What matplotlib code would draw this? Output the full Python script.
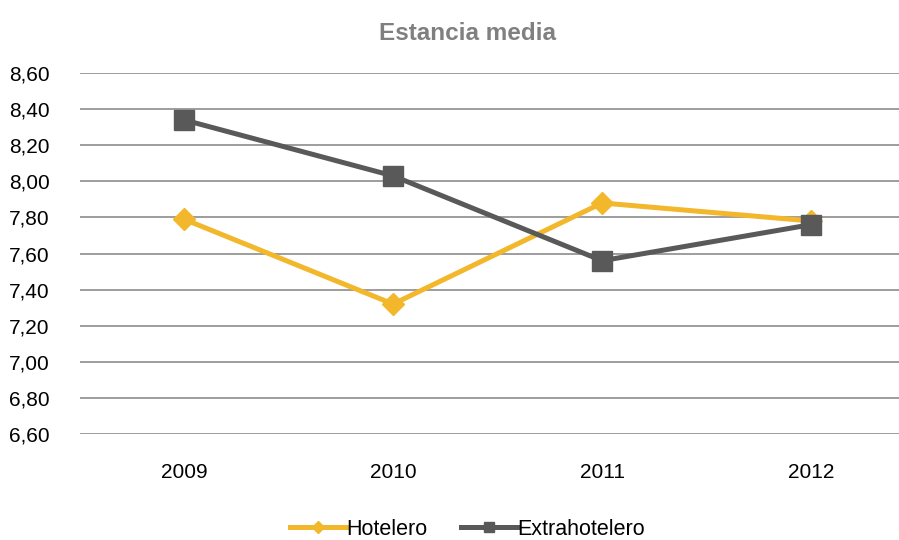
import matplotlib.pyplot as plt
import matplotlib
matplotlib.rcParams["font.family"] = ["Liberation Sans", "DejaVu Sans"]

# Estancia media por tipo de alojamiento
years = ['2009', '2010', '2011', '2012']
hotelero = [7.79, 7.32, 7.88, 7.78]
extrahotelero = [8.34, 8.03, 7.56, 7.76]

yellow = '#F2B72B'
dark = '#595959'

fig = plt.figure(figsize=(8.99, 5.40), dpi=100)
ax = fig.add_axes([0.089, 0.1963, 0.911, 0.6685])

x = range(len(years))
ax.plot(x, hotelero, color=yellow, lw=3.6, marker='D', ms=11,
        label='Hotelero', zorder=3)
ax.plot(x, extrahotelero, color=dark, lw=3.6, marker='s', ms=14,
        label='Extrahotelero', zorder=4)

ax.set_ylim(6.6, 8.6)
ax.set_xlim(-0.4976, 3.42)
yt = [6.6 + 0.2 * i for i in range(11)]
ax.set_yticks(yt)
ax.set_yticklabels([('%.2f' % v).replace('.', ',') for v in yt])
ax.set_xticks(list(x))
ax.set_xticklabels(years)
ax.tick_params(length=0, labelsize=15, colors='black')
ax.tick_params(axis='x', pad=21)
ax.tick_params(axis='y', pad=22)
ax.grid(axis='y', color='#8C8C8C', lw=1.2)
ax.set_axisbelow(True)
for s in ax.spines.values():
    s.set_visible(False)

fig.suptitle('Estancia media', x=0.52, y=0.96, fontsize=17.5,
             fontweight='bold', color='#808080')

leg = fig.legend(loc='lower center', bbox_to_anchor=(0.52, -0.035), ncol=2,
                 frameon=False, fontsize=15.5, handlelength=2.6,
                 handletextpad=0.0, columnspacing=1.6, markerscale=0.55)

fig.savefig('out.png', dpi=100)
